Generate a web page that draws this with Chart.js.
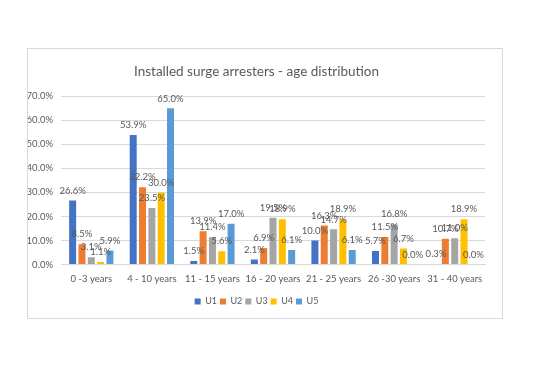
<!DOCTYPE html>
<html>
<head>
<meta charset="utf-8">
<script src="https://cdn.jsdelivr.net/npm/chart.js@4"></script>
<style>
  html, body { margin: 0; padding: 0; background: #ffffff; }
  #frame { position: absolute; left: 27px; top: 48px; width: 474px; height: 269px; border: 1px solid #d9d9d9; background: #fff; }
  canvas { display: block; }
</style>
</head>
<body>
<div id="frame"><canvas id="c" width="474" height="269"></canvas></div>
<script>
const categories = ["0 -3 years", "4 - 10 years", "11 - 15 years", "16 - 20 years", "21 - 25 years", "26 -30 years", "31 - 40 years"];
const seriesNames = ["U1", "U2", "U3", "U4", "U5"];
const u1 = [26.6, 53.9, 1.5, 2.1, 10.0, 5.7, 0.3];
const u2 = [8.5, 32.2, 13.9, 6.9, 16.3, 11.5, 10.7];
const u3 = [3.1, 23.5, 11.4, 19.5, 14.7, 16.8, 11.0];
const u4 = [1.1, 30.0, 5.6, 18.9, 18.9, 6.7, 18.9];
const u5 = [5.9, 65.0, 17.0, 6.1, 6.1, 0.0, 0.0];
const colors = ["#4472C4", "#ED7D31", "#A5A5A5", "#FFC000", "#5B9BD5"];
const yTicks = [0, 10, 20, 30, 40, 50, 60, 70];

const seriesValues = [u1, u2, u3, u4, u5];
const FONT = "Lato, 'Open Sans', sans-serif";
const TXT = "#595959";

const dataLabels = {
  id: "dataLabels",
  afterDatasetsDraw(chart) {
    const ctx = chart.ctx;
    ctx.save();
    ctx.font = "9.5px " + FONT;
    ctx.fillStyle = TXT;
    ctx.textAlign = "center";
    ctx.textBaseline = "bottom";
    chart.data.datasets.forEach((ds, i) => {
      const meta = chart.getDatasetMeta(i);
      meta.data.forEach((el, j) => {
        ctx.fillText(ds.data[j].toFixed(1) + "%", el.x, el.y - 5);
      });
    });
    ctx.restore();
  }
};

new Chart(document.getElementById("c"), {
  type: "bar",
  data: {
    labels: categories,
    datasets: seriesNames.map((n, i) => ({
      label: n,
      data: seriesValues[i],
      backgroundColor: colors[i],
      borderWidth: 0,
      categoryPercentage: 0.77,
      barPercentage: 0.75
    }))
  },
  options: {
    responsive: false,
    animation: false,
    devicePixelRatio: 1,
    layout: { padding: { left: 0, right: 17, top: 0, bottom: 2 } },
    plugins: {
      title: {
        display: true,
        text: "Installed surge arresters - age distribution",
        color: TXT,
        font: { family: FONT, size: 13.5, weight: "normal" },
        padding: { top: 15, bottom: 16 }
      },
      legend: {
        position: "bottom",
        labels: {
          color: TXT,
          font: { family: FONT, size: 9 },
          boxWidth: 6,
          boxHeight: 6,
          padding: 3
        }
      },
      tooltip: { enabled: false }
    },
    scales: {
      x: {
        grid: { display: false, drawTicks: false },
        border: { color: "#d9d9d9" },
        ticks: { color: TXT, font: { family: FONT, size: 9.5 }, padding: 9, maxRotation: 0, autoSkip: false }
      },
      y: {
        min: 0,
        max: 70,
        afterBuildTicks(scale) { scale.ticks = yTicks.map(v => ({ value: v })); },
        afterFit(scale) { scale.width = 33; },
        grid: { color: "#d9d9d9", drawTicks: false },
        border: { display: false },
        ticks: {
          color: TXT,
          font: { family: FONT, size: 9.5 },
          padding: 8,
          callback: v => v.toFixed(1) + "%"
        }
      }
    }
  },
  plugins: [dataLabels]
});
</script>
</body>
</html>
